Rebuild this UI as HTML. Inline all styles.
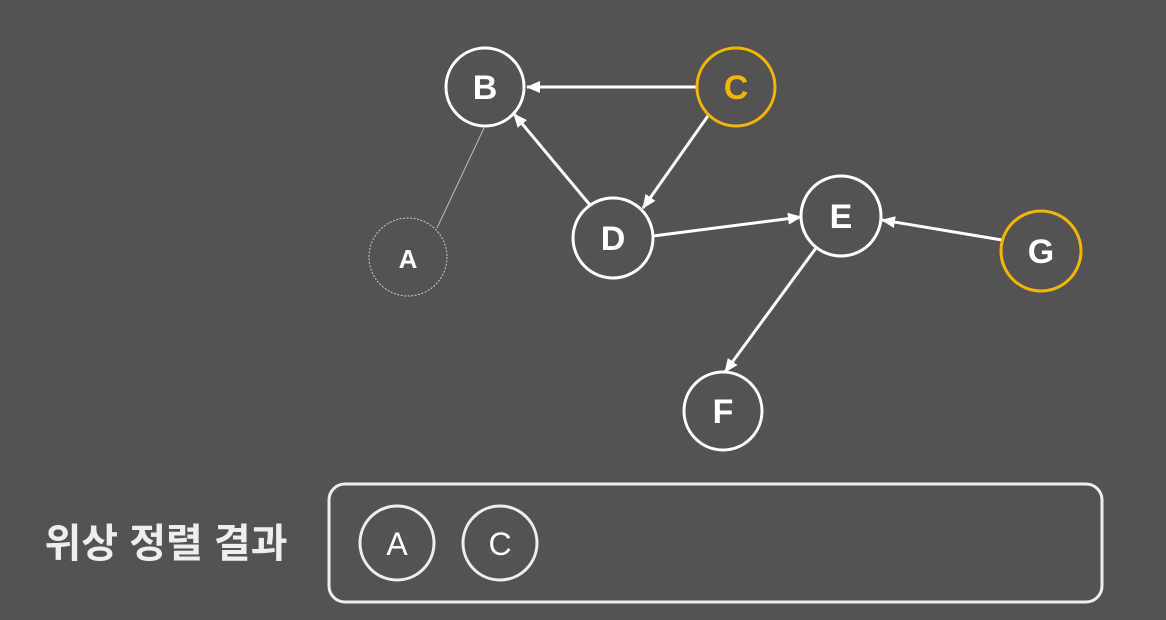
<html><body style="margin:0;width:1166px;height:620px;background:#545253;overflow:hidden">
<svg width="1166" height="620" xmlns="http://www.w3.org/2000/svg" style="font-family:'Liberation Sans','Noto Sans CJK KR',sans-serif">
<defs><marker id="a" markerWidth="14" markerHeight="14" refX="13" refY="6" orient="auto" markerUnits="userSpaceOnUse"><path d="M0,0 L14,6 L0,12 z" fill="#fff"/></marker></defs>
<g stroke="#fff" stroke-width="3" fill="none">
<line x1="697" y1="87" x2="527" y2="87" marker-end="url(#a)"/>
<line x1="590" y1="205" x2="514" y2="114" marker-end="url(#a)"/>
<line x1="710" y1="113" x2="643" y2="208" marker-end="url(#a)"/>
<line x1="653" y1="236" x2="801" y2="217" marker-end="url(#a)"/>
<line x1="1002" y1="240" x2="882" y2="220" marker-end="url(#a)"/>
<line x1="816" y1="248" x2="725" y2="372" marker-end="url(#a)"/>
<line x1="437" y1="228" x2="484" y2="128" stroke-width="1" stroke="#bbb"/>
<circle cx="408" cy="257" r="39" stroke-width="1" stroke="#ccc" stroke-dasharray="2 1.5"/>
<circle cx="485" cy="87" r="39" fill="#545253"/>
<circle cx="736" cy="87" r="39" stroke="#f2b705" fill="#545253"/>
<circle cx="613" cy="238" r="40" fill="#545253"/>
<circle cx="841" cy="216" r="40" fill="#545253"/>
<circle cx="1041" cy="251" r="40" stroke="#f2b705" fill="#545253"/>
<circle cx="723" cy="411" r="39" fill="#545253"/>
<rect x="329" y="484" width="773" height="118" rx="16" stroke="#eee"/>
<circle cx="397" cy="543" r="37" stroke="#eee"/>
<circle cx="500" cy="543" r="37" stroke="#eee"/>
</g>
<g fill="#fff" font-size="34" text-anchor="middle" font-weight="bold">
<text x="485" y="99">B</text><text x="736" y="99" fill="#f2b705">C</text>
<text x="613" y="250">D</text><text x="841" y="228">E</text>
<text x="1041" y="263">G</text><text x="723" y="423">F</text>
<text x="408" y="268" font-size="26">A</text>
<text x="397" y="555" font-weight="normal" font-size="32">A</text>
<text x="500" y="555" font-weight="normal" font-size="32">C</text>
<text x="166" y="557" font-size="40" font-weight="bold" fill="#eee">위상 정렬 결과</text>
</g>
</svg>
</body></html>
